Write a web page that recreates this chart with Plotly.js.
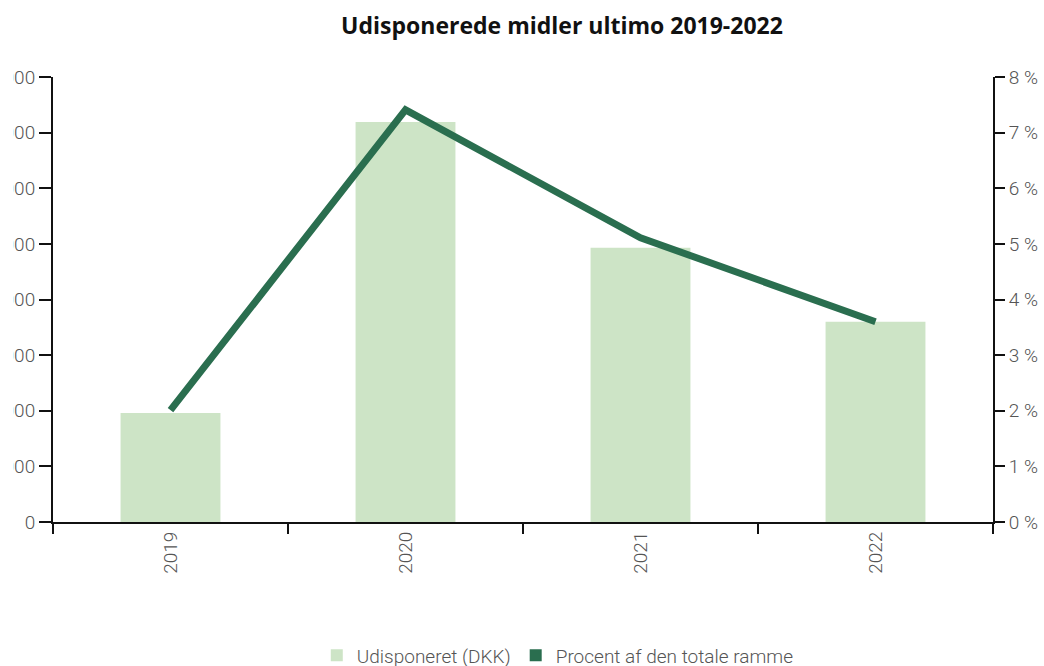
<!DOCTYPE html>
<html>
<head>
<meta charset="utf-8">
<script src="https://cdn.plot.ly/plotly-3.0.1.min.js"></script>
<style>
html,body{margin:0;padding:0;background:#fff;overflow:hidden;}
#wrap{position:absolute;left:13px;top:0;width:1031px;height:666px;overflow:hidden;}
#chart{position:absolute;left:-62px;top:0;width:1093px;height:666px;}
</style>
</head>
<body>
<div id="wrap"><div id="chart"></div></div>
<script>
const years = ['2019', '2020', '2021', '2022'];
const udisponeret = [1960000, 7190000, 4930000, 3600000];
const procent = [2.01, 7.41, 5.11, 3.6];
const leftTicks = [0, 1000000, 2000000, 3000000, 4000000, 5000000, 6000000, 7000000, 8000000];
const rightTicks = [0, 1, 2, 3, 4, 5, 6, 7, 8];
const rightTickText = ['0 %', '1 %', '2 %', '3 %', '4 %', '5 %', '6 %', '7 %', '8 %'];

const barColor = '#cde4c6';
const lineColor = '#2a6e4f';
const tickFont = {family: 'Roboto, sans-serif', size: 19, color: '#555', weight: 300};

const traces = [
  {type: 'bar', x: years, y: udisponeret, name: 'Udisponeret (DKK)', marker: {color: barColor}, width: 0.425},
  {type: 'bar', x: years, y: years.map(() => null), name: 'Procent af den totale ramme', marker: {color: lineColor}, yaxis: 'y2'},
  {type: 'scatter', mode: 'lines', x: years, y: procent, name: 'Procent af den totale ramme', line: {color: lineColor, width: 7}, yaxis: 'y2', showlegend: false}
];

const layout = {
  width: 1093, height: 666,
  margin: {l: 102, r: 51, t: 77, b: 144, autoexpand: false},
  paper_bgcolor: '#fff', plot_bgcolor: '#fff',
  separators: ',.',
  barmode: 'overlay',
  title: {text: 'Udisponerede midler ultimo 2019-2022', font: {family: '"Open Sans", Lato, sans-serif', size: 23, color: '#111', weight: 'bold'},
          x: 0.559, xanchor: 'center', xref: 'container', y: 0.961, yanchor: 'middle', yref: 'container'},
  xaxis: {type: 'category', automargin: false, showline: true, linecolor: '#111', linewidth: 2, ticks: 'outside', tickson: 'boundaries',
          ticklen: 10, tickwidth: 2, tickcolor: '#111', tickangle: -90, tickfont: tickFont, showgrid: false, zeroline: false},
  yaxis: {automargin: false, range: [0, 8000000], tickmode: 'array', tickvals: leftTicks, tickformat: ',d', showline: true, linecolor: '#111', linewidth: 2,
          ticks: 'outside', ticklen: 12, tickwidth: 2, tickcolor: '#111', tickfont: tickFont, showgrid: false, zeroline: false},
  yaxis2: {automargin: false, range: [0, 8], tickmode: 'array', tickvals: rightTicks, ticktext: rightTickText, overlaying: 'y', side: 'right', showline: true, linecolor: '#111', linewidth: 2,
           ticks: 'outside', ticklen: 10, tickwidth: 2, tickcolor: '#111', tickfont: tickFont, showgrid: false, zeroline: false},
  showlegend: true,
  legend: {orientation: 'h', x: 0.537, xanchor: 'center', y: -0.30, yanchor: 'middle', font: tickFont, traceorder: 'normal'}
};

Plotly.newPlot('chart', traces, layout, {displayModeBar: false, staticPlot: true});
</script>
</body>
</html>
